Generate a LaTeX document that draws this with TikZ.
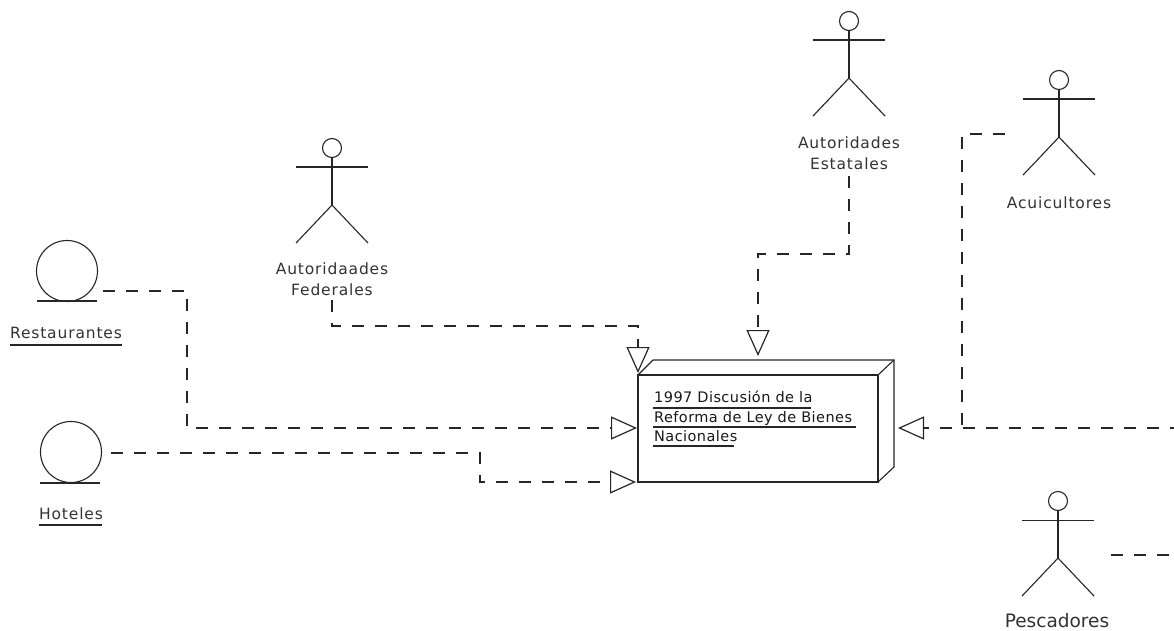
\documentclass[tikz,border=0pt]{standalone}
\usepackage{fontspec}
\setmainfont{DejaVu Sans}
\usetikzlibrary{arrows.meta,calc}
\newfontfamily\lblfont[LetterSpace=5.5]{DejaVu Sans}
\newfontfamily\boxfont[LetterSpace=3]{DejaVu Sans}
\tikzset{
  x=1pt,y=-1pt,
  fig/.style={draw=black!85,line width=1.1pt},
  conn/.style={draw=black!85,line width=1.1pt,dash pattern=on 12pt off 11pt},
  opentip/.style={-{Triangle[open,length=26pt,width=23pt,line width=1.2pt,fill=white]}},
  headc/.style={circle,draw=black!85,line width=1.1pt,inner sep=0pt,minimum size=19pt},
  entc/.style={circle,draw=black!85,line width=1.1pt,inner sep=0pt,minimum size=61pt},
  lbl/.style={inner sep=0pt,font=\lblfont\fontsize{15.5}{21}\selectfont,text=black!80,align=center},
  boxtxt/.style={inner sep=0pt,anchor=base west,font=\boxfont\fontsize{14.5}{16}\selectfont,text=black!90},
  rule/.style={draw=black!85,line width=1.1pt}
}
\newcommand{\actor}[2]{%
  \node[headc] (#1) at (#2) {};
  \draw[fig] (#1.south) -- ++(0,47) coordinate (#1hip);
  \draw[fig] ($(#1.south)+(-36,9)$) -- ++(72,0);
  \draw[fig] (#1hip) -- ++(-36,38);
  \draw[fig] (#1hip) -- ++(36,38);
}
\begin{document}
\begin{tikzpicture}
\useasboundingbox (0,0) rectangle (1174,631);
\fill[white] (0,0) rectangle (1174,631);
% actors
\actor{fed}{332,148}
\actor{est}{849,21}
\actor{acu}{1059,80}
\actor{pes}{1058,501}
% entities
\node[entc] (rest) at (67,271) {};
\draw[fig] (37,301) -- (97,301);
\node[entc] (hot) at (71,452) {};
\draw[fig] (40,483) -- (100,483);
% labels
\node[lbl] (lrest) at (66,333) {Restaurantes};
\draw[rule] (10,345) -- (122,345);
\node[lbl] (lhot) at (71,514) {Hoteles};
\draw[rule] (39,525) -- (102,525);
\node[lbl] (lfed) at (332,279.5) {Autoridaades\\Federales};
\node[lbl] (lest) at (849,153.5) {Autoridades\\Estatales};
\node[lbl] (lacu) at (1059,203) {Acuicultores};
\node[inner sep=0pt,text=black!80,font=\fontsize{18.5}{21}\selectfont] (lpes) at (1057,621) {Pescadores};
% box
\draw[fig] (653,360) -- (894,360) -- (894,467) -- (878,482);
\draw[fig] (638,375) -- (653,360);
\draw[fig] (878,375) -- (894,360);
\node[draw=black!85,line width=1.1pt,minimum width=240pt,minimum height=107pt,inner sep=0pt] (box) at (758,428.5) {};
\node[boxtxt] (t1) at (654,402) {1997 Discusión de la};
\draw[rule] (653,408) -- (811,408);
\node[boxtxt] (t2) at (654,422) {Reforma de Ley de Bienes};
\draw[rule] (653,427) -- (856,427);
\node[boxtxt] (t3) at (654,441) {Nacionales};
\draw[rule] (653,446) -- (734,446);
% free connector ends
\coordinate (a1) at (103,291);
\coordinate (a2) at (111,453);
\coordinate (a3) at (332,300);
\coordinate (a4) at (849,176);
\coordinate (a5) at (1005,134);
\coordinate (a6) at (1111,555);
\coordinate (tipTL) at (638,373);
\coordinate (tipT) at (758,356);
\coordinate (tipL) at (637,428);
\coordinate (tipLL) at (636,482);
\coordinate (tipR) at (898,428);
% connectors
\draw[conn,opentip] (a1) -- (187,291) -- (187,428) -- (tipL);
\draw[conn,opentip] (a2) -- (480,453) -- (480,482) -- (tipLL);
\draw[conn,opentip] (a3) -- (332,326) -- (638,326) -- (tipTL);
\draw[conn,opentip] (a4) -- (849,254) -- (758,254) -- (tipT);
\draw[conn] (a5) -- (962,134) -- (962,428);
\draw[conn,opentip] (a6) -- (1174.8,555) -- (1174.8,428) -- (tipR);
\end{tikzpicture}
\end{document}
